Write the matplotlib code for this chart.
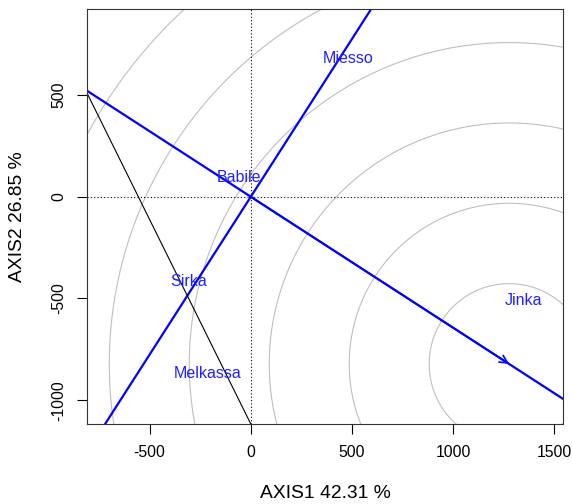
import numpy as np
import matplotlib.pyplot as plt

plt.rcParams['font.family'] = ['Liberation Sans', 'DejaVu Sans']
plt.rcParams['axes.unicode_minus'] = False

# environment labels and their biplot coordinates
env_names = ['Miesso', 'Babile', 'Sirka', 'Melkassa', 'Jinka']
env_x = [480, -58, -307, -211, 1345]
env_y = [682, 97, -418, -867, -510]

# ideal point (arrow tip) and circle spacing
ideal_x = 1276
ideal_y = -822
ring_step = 395
n_rings = 8

# thin black segment
seg_x = [-809, 0]
seg_y = [510, -1117]

xlim = (-809, 1542)
ylim = (-1117, 923)

fig = plt.figure(figsize=(5.72, 5.04), dpi=100)
ax = fig.add_axes([87 / 572, 1 - 424 / 504, 476 / 572, 415 / 504])

# concentric circles around the ideal point
t = np.linspace(0, 2 * np.pi, 720)
for k in range(1, n_rings + 1):
    r = ring_step * k
    ax.plot(ideal_x + r * np.cos(t), ideal_y + r * np.sin(t), color='#BEBEBE', lw=0.8)

# dotted axes through origin
ax.axhline(0, color='black', ls=(0, (1, 2)), lw=0.8)
ax.axvline(0, color='black', ls=(0, (1, 2)), lw=0.8)

# average environment axis and its perpendicular
slope = ideal_y / ideal_x
xx = np.array([-2000, 2000])
ax.plot(xx, slope * xx, color='#0000FF', lw=1.6)
ax.plot(xx, -xx / slope, color='#0000FF', lw=1.6)
ax.annotate('', xy=(ideal_x, ideal_y), xytext=(0, 0),
            arrowprops=dict(arrowstyle='->', color='#0000FF', lw=1.2,
                            mutation_scale=14, shrinkA=0, shrinkB=0))

ax.plot(seg_x, seg_y, color='black', lw=0.8)

for name, x, y in zip(env_names, env_x, env_y):
    ax.text(x, y, name, color='#2020FF', fontsize=11.5, ha='center', va='center')

ax.set_xlim(xlim)
ax.set_ylim(ylim)
ax.set_xticks([-500, 0, 500, 1000, 1500])
ax.set_yticks([-1000, -500, 0, 500])
ax.tick_params(direction='out', length=7, labelsize=11.3, pad=8)
for lab in ax.get_yticklabels():
    lab.set_rotation(90)
    lab.set_va('center')
for s in ax.spines.values():
    s.set_color('#333333')
ax.set_xlabel('AXIS1 42.31 %', fontsize=13.9, labelpad=18)
ax.set_ylabel('AXIS2 26.85 %', fontsize=13.9, labelpad=18)

fig.savefig('out.png', dpi=100)
